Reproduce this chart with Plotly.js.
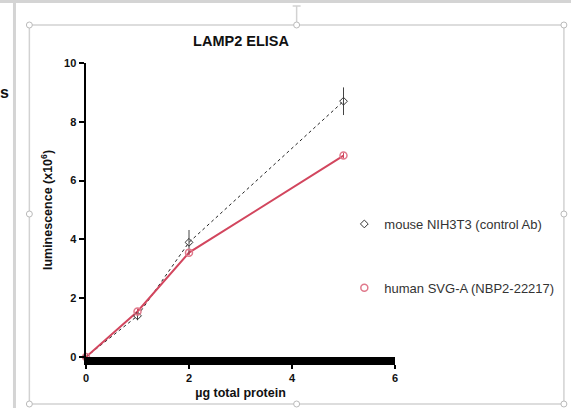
<!DOCTYPE html>
<html><head><meta charset="utf-8">
<script src="https://cdn.plot.ly/plotly-3.0.1.min.js"></script>
<style>html,body{margin:0;padding:0;background:#fff}#c{width:571px;height:408px}</style>
</head><body><div id="c"></div>
<script>
const protein = [0, 1, 2, 5];
const mouseVals = [0, 1.4, 3.9, 8.7];
const mouseErr = [0, 0.15, 0.42, 0.47];
const humanVals = [0, 1.55, 3.55, 6.85];
const humanErr = [0, 0.1, 0.08, 0.1];
const seriesNames = ['mouse NIH3T3 (control Ab)', 'human SVG-A (NBP2-22217)'];
const xTicks = [0, 2, 4, 6];
const yTicks = [0, 2, 4, 6, 8, 10];

const W = 571, H = 408, L = 86, R = 397, T = 63, B = 357;
const px = v => (v - L) / (R - L);
const py = v => (B - v) / (B - T);

const font = 'Liberation Sans, Arial, sans-serif';
const traces = [
  {x: protein, y: mouseVals, mode: 'lines', line: {color: '#222', width: 1, dash: 'dot'}, showlegend: false, hoverinfo: 'skip', cliponaxis: false},
  {x: protein, y: humanVals, mode: 'lines', line: {color: '#d2465e', width: 2}, showlegend: false, hoverinfo: 'skip', cliponaxis: false},
  {x: protein, y: mouseVals, name: seriesNames[0], mode: 'markers', legendgroup: 'a', cliponaxis: false,
   marker: {symbol: 'diamond-open', size: 6, color: '#333', line: {width: 1}},
   error_y: {type: 'data', array: mouseErr, color: '#444', thickness: 1, width: 0}},
  {x: protein, y: humanVals, name: seriesNames[1], mode: 'markers', legendgroup: 'b', cliponaxis: false,
   marker: {symbol: 'circle-open', size: 7, color: '#e07a8c', line: {width: 1.5}},
   error_y: {type: 'data', array: humanErr, color: '#d2465e', thickness: 1, width: 0}}
];

const frame = '#d2d2d2';
const shapes = [
  {type: 'rect', xref: 'paper', yref: 'paper', x0: px(-5), x1: px(W + 5), y0: py(-5), y1: py(3), fillcolor: '#d4d4d4', line: {width: 0}, layer: 'below'},
  {type: 'line', xref: 'paper', yref: 'paper', x0: px(14), x1: px(14), y0: py(3), y1: py(H + 5), line: {color: '#d4d4d4', width: 3}},
  {type: 'rect', xref: 'paper', yref: 'paper', x0: px(29), x1: px(567), y0: py(404), y1: py(25), line: {color: frame, width: 1.5}},
  {type: 'line', xref: 'paper', yref: 'paper', x0: px(298), x1: px(298), y0: py(25), y1: py(6), line: {color: frame, width: 1.5}},
  {type: 'line', xref: 'paper', yref: 'paper', x0: px(294), x1: px(302), y0: py(6), y1: py(6), line: {color: frame, width: 1.5}}
];
[[29,25],[298,25],[567,25],[29,214],[567,214],[29,404],[298,404],[567,404]].forEach(([a,b]) => {
  shapes.push({type: 'circle', xref: 'paper', yref: 'paper', x0: px(a-3), x1: px(a+3), y0: py(b+3), y1: py(b-3), fillcolor: '#fff', line: {color: '#bbb', width: 1}});
});

const layout = {
  width: W, height: H,
  margin: {l: L, r: W - R, t: T, b: H - B, pad: 0},
  paper_bgcolor: '#fff', plot_bgcolor: '#fff',
  font: {family: font, size: 11, color: '#111'},
  title: {text: '<b>LAMP2 ELISA</b>', font: {family: font, size: 14.5, color: '#111'}, xref: 'container', x: 241 / W, xanchor: 'center', y: 1 - 41 / H, yanchor: 'middle'},
  xaxis: {range: [0, 6], tickvals: xTicks, ticktext: xTicks.map(v => '<b>' + v + '</b>'), showgrid: false, zeroline: false,
    showline: true, linecolor: '#000', linewidth: 8, ticks: 'outside', ticklen: 4, tickwidth: 2, tickcolor: '#000',
    tickfont: {family: font, size: 11, color: '#111'},
    title: {text: '<b>µg total protein</b>', font: {family: font, size: 12.5, color: '#111'}, standoff: 8}},
  yaxis: {range: [0, 10], tickvals: yTicks, ticktext: yTicks.map(v => '<b>' + v + '</b>'), showgrid: false, zeroline: false,
    showline: true, linecolor: '#000', linewidth: 2.5, ticks: 'outside', ticklen: 5, tickwidth: 2, tickcolor: '#000',
    tickfont: {family: font, size: 11, color: '#111'},
    title: {text: '<b>luminescence (x10<sup>6</sup>)</b>', font: {family: font, size: 12.5, color: '#111'}, standoff: 9}},
  showlegend: true,
  legend: {x: px(346), y: py(209), xanchor: 'left', yanchor: 'top', bgcolor: 'rgba(0,0,0,0)',
    font: {family: font, size: 13, color: '#333'}, traceorder: 'grouped', tracegroupgap: 44, itemwidth: 30},
  shapes: shapes,
  annotations: [{xref: 'paper', yref: 'paper', x: px(-3), y: py(92), xanchor: 'left', yanchor: 'middle', showarrow: false,
    text: '<b>s</b>', font: {family: font, size: 16, color: '#111'}}]
};
Plotly.newPlot('c', traces, layout, {displayModeBar: false, staticPlot: true});
</script></body></html>
